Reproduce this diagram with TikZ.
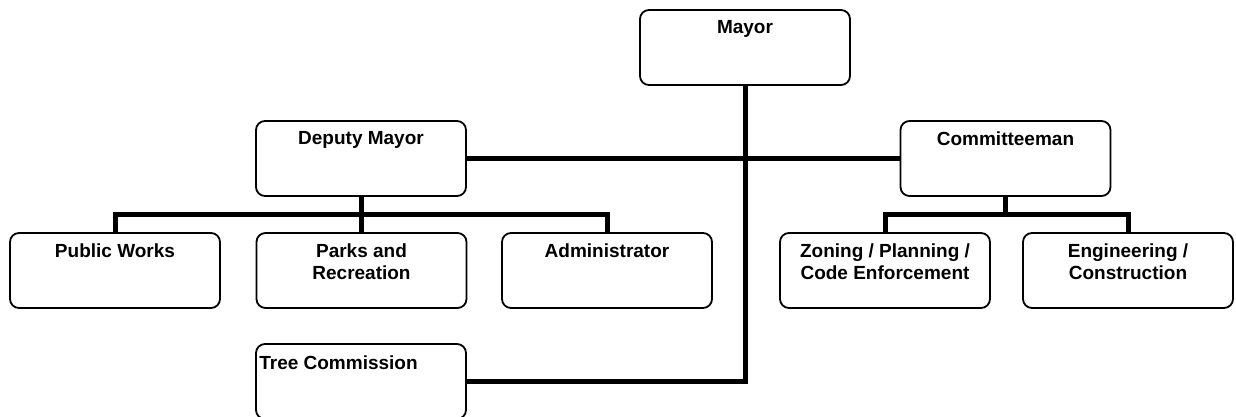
\documentclass[tikz,border=0pt]{standalone}
\usepackage{fontspec}
\setmainfont{Liberation Sans}
\pgfdeclarelayer{background}
\pgfsetlayers{background,main}
\begin{document}
\begin{tikzpicture}[x=1pt,y=-1pt,
  box/.style={draw=black, line width=1.8pt, rounded corners=9pt, fill=white,
    minimum width=210pt, minimum height=75pt, inner sep=0pt},
  txt/.style={font=\fontsize{19}{22}\selectfont\bfseries, align=center, inner sep=0pt, anchor=north},
  conn/.style={draw=black, line width=5pt, line join=miter}]
\useasboundingbox (0,0) rectangle (1236,416);
% boxes
\node[box] (mayor) at (745,47.5) {};
\node[box] (dep) at (361,158.5) {};
\node[box] (com) at (1005.5,158.5) {};
\node[box] (pw) at (115,270.5) {};
\node[box] (parks) at (361.5,270.5) {};
\node[box] (adm) at (607,270.5) {};
\node[box] (zon) at (885,270.5) {};
\node[box] (eng) at (1128,270.5) {};
\node[box] (tree) at (361,381.5) {};
\coordinate (bus) at (0,214);
% connectors
\begin{pgfonlayer}{background}
\draw[conn] (mayor.south) |- (tree.east);
\draw[conn] (dep.east) -- (com.west);
\draw[conn] (dep.south) -- (dep.south |- bus);
\draw[conn] (pw.north) -- (pw.north |- bus) -- (adm.north |- bus) -- (adm.north);
\draw[conn] (parks.north) -- (parks.north |- bus);
\draw[conn] (com.south) -- (com.south |- bus);
\draw[conn] (zon.north) -- (zon.north |- bus) -- (eng.north |- bus) -- (eng.north);
\end{pgfonlayer}
% texts
\node[txt] (mayorT) at ([yshift=-11pt]mayor.north) {Mayor};
\node[txt] (depT) at ([yshift=-11pt]dep.north) {Deputy Mayor};
\node[txt] (comT) at ([yshift=-11pt]com.north) {Committeeman};
\node[txt] (pwT) at ([yshift=-11pt]pw.north) {Public Works};
\node[txt] (parksT) at ([yshift=-11pt]parks.north) {Parks and\\Recreation};
\node[txt] (admT) at ([yshift=-11pt]adm.north) {Administrator};
\node[txt] (zonT) at ([yshift=-11pt]zon.north) {Zoning / Planning /\\Code Enforcement};
\node[txt] (engT) at ([yshift=-11pt]eng.north) {Engineering /\\Construction};
\node[txt, anchor=north west] (treeT) at ([xshift=4pt,yshift=-12pt]tree.north west) {Tree Commission};
\end{tikzpicture}
\end{document}
